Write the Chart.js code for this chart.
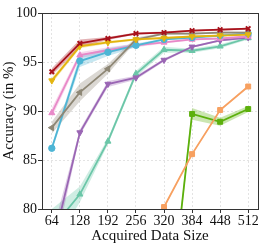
<!DOCTYPE html>
<html>
<head>
<meta charset="utf-8">
<script src="https://cdn.jsdelivr.net/npm/chart.js@4.4.1/dist/chart.umd.min.js"></script>
<style>
html,body{margin:0;padding:0;background:#fff;}
#c{display:block;}
</style>
</head>
<body>
<canvas id="c" width="266" height="245"></canvas>
<script>
// ---- data ----
const sizes = [64, 128, 192, 256, 320, 384, 448, 512];
const xTickLabels = [64, 128, 192, 256, 320, 384, 448, 512];
const yTickLabels = [80, 85, 90, 95, 100];

const redVals    = [94.0, 96.9, 97.4, 97.9, 98.0, 98.2, 98.3, 98.4];
const goldVals   = [93.1, 96.6, 97.0, 97.3, 97.45, 97.6, 97.7, 97.8];
const pinkVals   = [89.8, 95.7, 96.2, 96.7, 97.0, 97.3, 97.4, 97.6];
const blueVals   = [86.2, 95.1, 96.0, 96.7, 97.3, 97.5, 97.7, 97.9];
const grayVals   = [88.3, 91.9, 94.3, 97.3, 97.9, 97.9, 98.0, 98.0];
const purpleVals = [75.9, 87.8, 92.75, 93.4, 95.2, 96.55, 97.2, 97.5];
const tealVals   = [78.0, 81.5, 86.9, 93.8, 96.25, 96.15, 96.6, 97.45];
const orangeVals = [null, null, null, null, 80.2, 85.6, 90.1, 92.5];
const greenVals  = [null, null, null, null, 64.1, 89.7, 88.9, 90.2];

const redSd    = [0.35, 0.4, 0.15, 0.1, 0.1, 0.1, 0.1, 0.1];
const goldSd   = [0.3, 0.2, 0.15, 0.1, 0.1, 0.1, 0.1, 0.1];
const pinkSd   = [0.5, 0.3, 0.3, 0.2, 0.1, 0.1, 0.1, 0.1];
const blueSd   = [0.3, 0.6, 0.4, 0.2, 0.1, 0.1, 0.1, 0.1];
const graySd   = [0.6, 0.9, 0.5, 0.2, 0.1, 0.1, 0.1, 0.1];
const purpleSd = [1.5, 0.3, 0.3, 0.2, 0.15, 0.1, 0.1, 0.1];
const tealSd   = [2.0, 0.8, 0.3, 0.3, 0.3, 0.2, 0.2, 0.15];
const orangeSd = [null, null, null, null, 0.1, 0.1, 0.1, 0.1];
const greenSd  = [null, null, null, null, 0.5, 0.6, 0.4, 0.3];

// ---- build ----
const series = [
  {vals: redVals,    sd: redSd,    color: '#a8121c', style: 'crossRot', rot: 0,   r: 3.2},
  {vals: goldVals,   sd: goldSd,   color: '#e3b40e', style: 'triangle', rot: 180, r: 3.5},
  {vals: grayVals,   sd: graySd,   color: '#8e8775', style: 'triangle', rot: 270, r: 3.5},
  {vals: blueVals,   sd: blueSd,   color: '#4db5d5', style: 'circle',   rot: 0,   r: 3.2},
  {vals: pinkVals,   sd: pinkSd,   color: '#e889c8', style: 'triangle', rot: 0,   r: 3.5},
  {vals: purpleVals, sd: purpleSd, color: '#9a66b4', style: 'triangle', rot: 180, r: 3.5},
  {vals: tealVals,   sd: tealSd,   color: '#6bc6a8', style: 'triangle', rot: 0,   r: 3.5},
  {vals: orangeVals, sd: orangeSd, color: '#f7a060', style: 'rect',     rot: 0,   r: 3.5},
  {vals: greenVals,  sd: greenSd,  color: '#5cb00c', style: 'rect',     rot: 0,   r: 3.5}
];

function hexA(hex, a) {
  const n = parseInt(hex.slice(1), 16);
  return `rgba(${(n >> 16) & 255},${(n >> 8) & 255},${n & 255},${a})`;
}
function pts(vals) { return sizes.map((x, i) => ({x: x, y: vals[i]})); }

const lineSets = [];
const bandSets = [];
series.forEach(s => {
  lineSets.push({
    data: pts(s.vals),
    borderColor: s.color,
    backgroundColor: s.color,
    borderWidth: 1.8,
    pointStyle: s.style,
    pointRotation: s.rot,
    pointRadius: s.r,
    pointBorderWidth: s.style === 'crossRot' ? 2 : 1,
    pointBorderColor: s.color,
    pointBackgroundColor: s.color,
    fill: false,
    tension: 0,
    spanGaps: false
  });
  bandSets.push({
    data: pts(s.vals.map((v, i) => v === null ? null : v + s.sd[i])),
    borderWidth: 0, pointRadius: 0, fill: false, borderColor: 'rgba(0,0,0,0)'
  });
  bandSets.push({
    data: pts(s.vals.map((v, i) => v === null ? null : v - s.sd[i])),
    borderWidth: 0, pointRadius: 0, fill: '-1', borderColor: 'rgba(0,0,0,0)',
    backgroundColor: hexA(s.color, 0.32)
  });
});

const frame = {
  id: 'frame',
  afterDatasetsDraw(chart) {
    const {ctx, chartArea: a} = chart;
    ctx.save();
    ctx.strokeStyle = '#333';
    ctx.lineWidth = 1;
    ctx.strokeRect(Math.round(a.left) + 0.5, Math.round(a.top) + 0.5,
                   Math.round(a.right - a.left), Math.round(a.bottom - a.top));
    ctx.restore();
  }
};

const serif = "'Liberation Serif', 'Times New Roman', serif";
new Chart(document.getElementById('c'), {
  type: 'line',
  data: {datasets: lineSets.concat(bandSets)},
  options: {
    responsive: false,
    animation: false,
    devicePixelRatio: 1,
    layout: {padding: {left: 0, right: 8, top: 13, bottom: 0}},
    plugins: {legend: {display: false}, tooltip: {enabled: false}},
    scales: {
      x: {
        type: 'linear',
        min: 41.6, max: 534.4,
        afterBuildTicks: ax => { ax.ticks = xTickLabels.map(v => ({value: v})); },
        afterFit: ax => { ax.height = 36; },
        ticks: {color: '#111', font: {family: serif, size: 14}, padding: 0, maxRotation: 0, autoSkip: false},
        grid: {color: '#dcdcdc', lineWidth: 0.8, tickLength: 4, tickColor: '#333', tickWidth: 1},
        border: {display: true, color: '#333', width: 1, dash: [2, 2]},
        title: {display: true, text: 'Acquired Data Size', color: '#111', font: {family: serif, size: 15}, padding: {top: 0, bottom: 0}}
      },
      y: {
        min: 80, max: 100,
        afterBuildTicks: ax => { ax.ticks = yTickLabels.map(v => ({value: v})); },
        afterFit: ax => { ax.width = 42; },
        ticks: {color: '#111', font: {family: serif, size: 14}, padding: 1},
        grid: {color: '#dcdcdc', lineWidth: 0.8, tickLength: 4, tickColor: '#333', tickWidth: 1},
        border: {display: true, color: '#333', width: 1, dash: [2, 2]},
        title: {display: true, text: 'Accuracy (in %)', color: '#111', font: {family: serif, size: 15}, padding: {top: 0, bottom: 0}}
      }
    }
  },
  plugins: [frame]
});
</script>
</body>
</html>
